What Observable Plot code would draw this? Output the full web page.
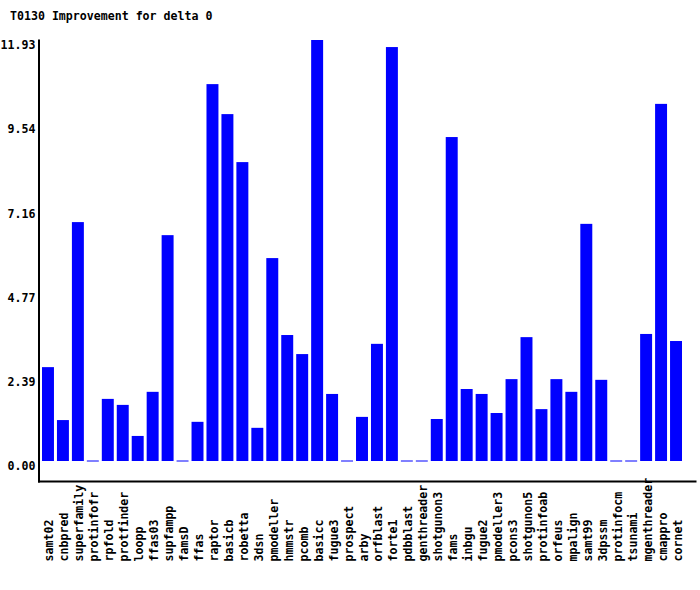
<!DOCTYPE html>
<html>
<head>
<meta charset="utf-8">
<script src="https://cdn.jsdelivr.net/npm/d3@7"></script>
<script src="https://cdn.jsdelivr.net/npm/@observablehq/plot@0.6"></script>
<style>
  html, body { margin: 0; padding: 0; background: #fff; }
  #wrap { position: relative; width: 700px; height: 590px; }
  #title { position: absolute; left: 10px; top: 9px; font-family: "DejaVu Sans Mono", monospace; font-weight: bold; font-size: 11.6px; line-height: 14px; color: #000; white-space: pre; }
</style>
</head>
<body>
<div id="wrap"><div id="title"></div></div>
<script>
const title = "T0130 Improvement for delta 0";
const names = ["samt02","cnbpred","superfamily","protinfofr","rpfold","protfinder","loopp","ffas03","supfampp","famsD","ffas","raptor","basicb","robetta","3dsn","pmodeller","hmmstr","pcomb","basicc","fugue3","prospect","arby","orfblast","forte1","pdbblast","genthreader","shotgunon3","fams","inbgu","fugue2","pmodeller3","pcons3","shotgunon5","protinfoab","orfeus","mpalign","samt99","3dpssm","protinfocm","tsunami","mgenthreader","cmappro","cornet"];
const values = [2.66,1.16,6.77,0,1.76,1.59,0.71,1.96,6.40,0,1.11,10.68,9.83,8.47,0.94,5.75,3.57,3.03,11.93,1.90,0,1.25,3.32,11.73,0,0,1.19,9.18,2.04,1.90,1.36,2.32,3.51,1.47,2.32,1.96,6.72,2.30,0,0,3.60,10.12,3.40];
const yMax = 11.93;
const yTicks = d3.range(6).map(i => i * yMax / 5);

const data = names.map((name, i) => ({name, value: values[i]}));
const zeros = data.filter(d => d.value === 0);

document.getElementById("title").textContent = title;

const plot = Plot.plot({
  width: 700,
  height: 590,
  marginLeft: 38.5,
  marginRight: 5,
  marginTop: 40,
  marginBottom: 109,
  style: "font-family: 'DejaVu Sans Mono', monospace; font-size: 11.6px; font-weight: bold; color: #000; background: transparent;",
  x: {domain: names, padding: 0.2, paddingOuter: 0.1, insetLeft: 2, insetRight: 11.5, axis: null},
  y: {domain: [0, yMax], insetBottom: 20, insetTop: 0, axis: null},
  marks: [
    Plot.barY(data, {x: "name", y: "value", fill: "#0000ff"}),
    Plot.tickY(zeros, {x: "name", y: "value", stroke: "#0000ff", strokeWidth: 1, dy: -0.5}),
    Plot.axisY({ticks: yTicks, tickFormat: d3.format(".2f"), tickSize: 0, tickPadding: 3.5, dy: 5, label: null, fill: "#000"}),
    Plot.text(names, {x: d => d, frameAnchor: "bottom", rotate: -90, textAnchor: "start", dx: 5, dy: 80, fill: "#000"}),
    Plot.frame({anchor: "left", stroke: "#000", strokeWidth: 2}),
    Plot.frame({anchor: "bottom", stroke: "#000", strokeWidth: 2})
  ]
});
document.getElementById("wrap").appendChild(plot);
</script>
</body>
</html>
